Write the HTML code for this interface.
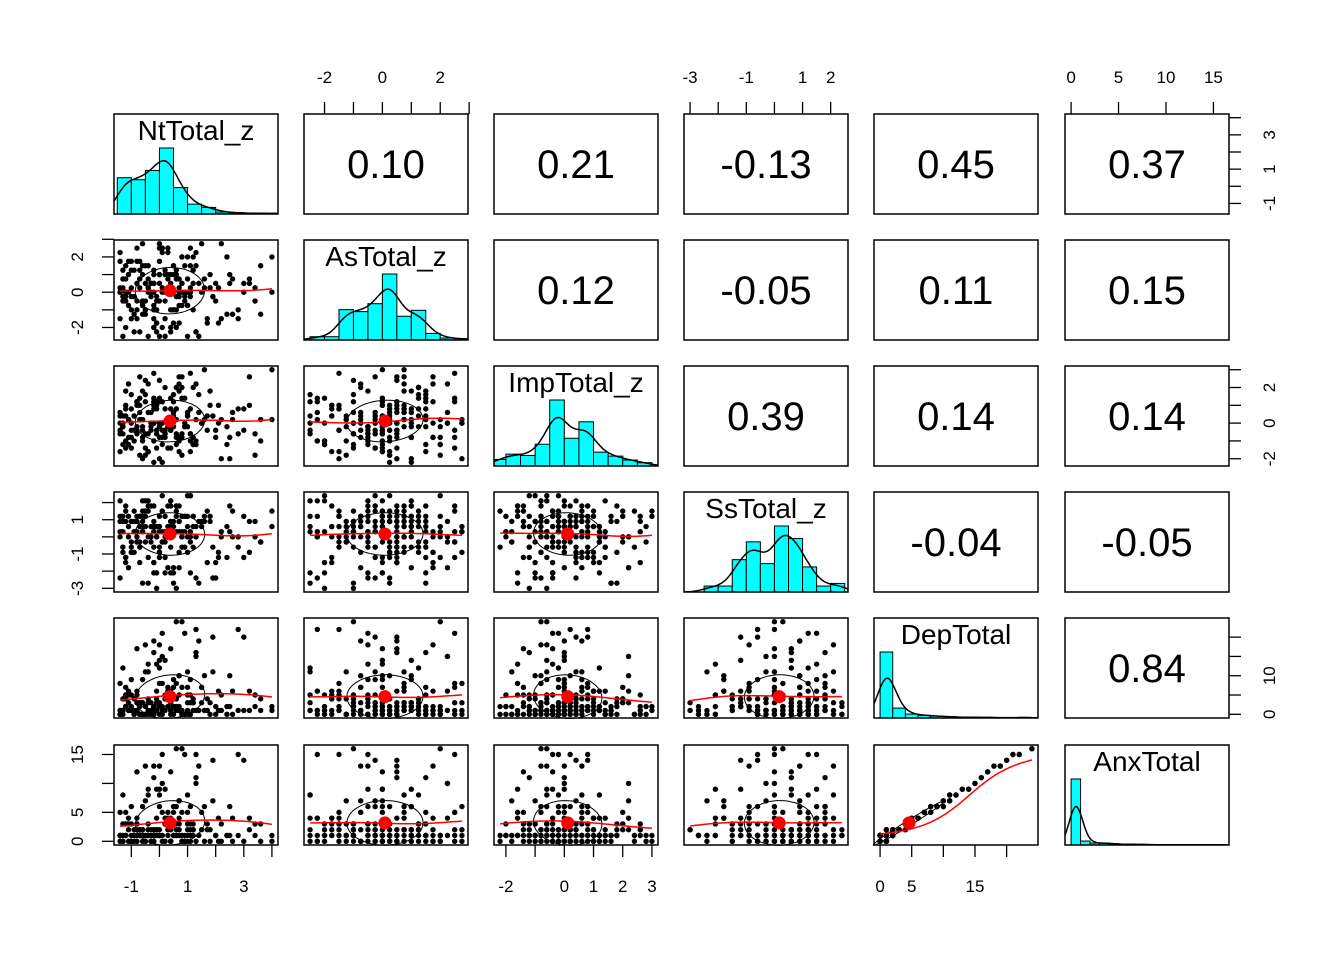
<!DOCTYPE html>
<html><head><meta charset="utf-8"><style>
html,body{margin:0;padding:0;background:#fff;}
svg{display:block;font-family:"Liberation Sans",Arial,sans-serif;}
</style></head><body>
<svg id="chart" width="1344" height="960" viewBox="0 0 1344 960"></svg>
<script>
const varNames = ["NtTotal_z","AsTotal_z","ImpTotal_z","SsTotal_z","DepTotal","AnxTotal"];
const nt = [-1.4,-1.2,-1.0,-0.8,-0.6,-0.4,-0.2,0,0.2,0.4, 0.6,0.8,1.0,1.2,1.4,-1.3,-1.1,-0.9,-0.7,-0.5, -0.3,-0.1,0.1,0.3,0.5,0.7,0.9,1.1,1.3,1.6, 1.8,2.0,2.2,-1.4,-1.0,-0.6,-0.2,0.2,0.6,1.0, 2.4,2.6,-1.2,-0.8,-0.4,0,0.4,0.8,-0.2,0, -1.3,-0.9,-0.5,-0.1,0.3,0.7,1.1,1.5,2.8,3.0, -1.1,-0.7,-0.3,0.1,0.5,0.9,1.3,1.7,3.2,3.4, -1.4,-0.8,-0.2,0.4,1.0,-0.6,0,0.6,3.6,4.0, -1.2,-1.0,-0.6,-0.4,-0.2,0.2,0.4,0.8,1.2,1.9, -1.3,-0.7,-0.1,0.5,1.1,-0.5,0.1,0.7,2.1,2.5,
 0.4,0.2,0,-0.2,-0.4,-0.6,-0.8,-1.0,-1.2,-1.4, -0.5,-0.7,-0.9,-1.1,-1.3,1.4,1.2,1.0,0.8,0.6, 1.6,1.3,1.1,0.9,0.7,0.5,0.3,0.1,-0.1,-0.3, 1.0,0.6,0.2,-0.2,-0.6,-1.0,-1.4,2.2,2.0,1.8, 0,-0.2,0.8,0.4,0,-0.4,-0.8,-1.2,2.6,2.4, 3.0,2.8,1.5,1.1,0.7,0.3,-0.1,-0.5,-0.9,-1.3, 3.4,3.2,1.7,1.3,0.9,0.5,0.1,-0.3,-0.7,-1.1, 4.0,3.6,0.6,0,-0.6,1.0,0.4,-0.2,-0.8,-1.4, 1.9,1.2,0.8,0.4,0.2,-0.2,-0.4,-0.6,-1.0,-1.2, 2.5,2.1,0.7,0.1,-0.5,1.1,0.5,-0.1,-0.7,-1.3];
const as = [0,1.5,-1,2.5,-0.5,0.75,-2,1,-1.5,0.25, -0.25,2,-0.75,0.5,-2.5,1.25,0,-1.25,1.75,-0.5, 0.5,-1.75,0.25,2.25,-1,0,1.5,-0.25,-2.25,0.75, 1,-0.5,2.75,-1.5,0.25,-0.75,0.5,1.25,-2,0, -1.25,0.75,-0.25,1.75,-2.5,0.5,-1,2,0,1, 0.25,-2.25,1.5,-0.5,0.75,-1.75,2.5,0,-1,0.5, -0.75,1.25,0,-2,1,-0.25,2.25,-1.5,0.5,0.25, 1.75,-1,0.5,0,-2.5,1.5,-0.5,0.75,-1.25,2, 0,-1.5,2.75,0.25,-0.75,1,-2.25,0.5,1.25,-0.25, -0.5,0.75,-1.75,1.5,0,-1,2.5,-0.25,0.25,1,
 1,-0.5,2.75,-1.5,0.25,-0.75,0.5,1.25,-2,0, -1.25,0.75,-0.25,1.75,-2.5,0.5,-1,2,0,1, 0.25,-2.25,1.5,-0.5,0.75,-1.75,2.5,0,-1,0.5, -0.75,1.25,0,-2,1,-0.25,2.25,-1.5,0.5,0.25, 1.75,-1,0.5,0,-2.5,1.5,-0.5,0.75,-1.25,2, 0,-1.5,2.75,0.25,-0.75,1,-2.25,0.5,1.25,-0.25, -0.5,0.75,-1.75,1.5,0,-1,2.5,-0.25,0.25,1, 0,1.5,-1,2.5,-0.5,0.75,-2,1,-1.5,0.25, -0.25,2,-0.75,0.5,-2.5,1.25,0,-1.25,1.75,-0.5, 0.5,-1.75,0.25,2.25,-1,0,1.5,-0.25,-2.25,0.75];
const imp = [-0.6,0.4,-1.4,1.2,-0.2,2.2,-1.0,0,0.8,-0.4, 0.2,-1.8,0.6,-0.8,1.6,-0.2,-1.2,0.4,2.6,-0.6, -0.4,1.0,-2.2,0,0.6,-1.0,1.4,-0.6,0.2,3.0, 1.8,-0.8,0.2,-1.6,0.8,-0.4,0,2.0,-1.2,0.4, -0.2,0.6,-1.4,1.2,-0.6,2.4,0,-0.8,1.0,-2.0, 0.4,-1.0,1.6,-0.4,0.2,-1.6,2.8,0,-0.6,0.8, -0.8,1.4,-0.2,-1.2,0.6,0,2.2,-0.4,1.0,-1.8, 0,-0.6,1.2,-1.4,0.4,1.8,-0.2,0.8,-1.0,0.2, 1.0,-0.4,-2.0,0.6,0,-0.8,1.4,-0.6,2.0,0.4, -1.2,0.2,0.8,-0.2,-1.6,1.2,-0.4,2.6,0,-0.8,
 0.8,-0.6,0,2.8,-1.6,0.2,-0.4,1.6,-1.0,0.4, -1.8,1.0,-0.4,2.2,0,0.6,-1.2,-0.2,1.4,-0.8, 0.2,-1.0,0.8,-0.2,1.8,0.4,-1.4,1.2,-0.6,0, 0.4,2.0,-0.6,1.4,-0.8,0,0.6,-2.0,-0.4,1.0, -0.8,0,2.6,-0.4,1.2,-1.6,-0.2,0.8,0.2,-1.2, -0.4,0.8,0,-1.0,2.2,-0.2,1.2,-1.4,0.4,-0.6, -0.6,2.6,0.4,-1.2,-0.2,1.6,-0.8,0.6,-1.8,0.2, 3.0,0.2,-0.6,1.4,-1.0,0.6,0,-2.2,1.0,-0.4, 0.4,-1.2,2.0,0,-0.4,0.8,-1.6,0.2,-0.8,1.8, -2.0,1.0,-0.8,0,2.4,-0.6,1.2,-1.4,0.6,-0.2];
const ss = [0.3,-1.2,0.9,-0.3,1.5,0,-2.1,0.6,1.2,-0.6, 1.8,0.3,-0.9,0.6,-2.7,1.2,0,0.9,-1.5,2.1, -0.3,0.6,1.5,-1.8,0.3,0.9,-0.6,2.4,0,1.2, 0.9,-2.4,0.3,1.2,-0.9,0.6,1.8,-0.3,-3.0,0, 0.6,1.5,-1.2,0.3,2.1,-0.6,0.9,0,-1.5,1.2, -0.9,0.3,1.2,-2.1,0.6,1.8,-0.3,0.9,0,-1.2, 1.2,-0.6,0.6,2.4,-1.8,0.3,0,1.5,-0.9,0.9, 0,0.9,-1.5,0.6,1.2,-2.7,0.3,1.8,-0.3,0.6, 1.5,-0.3,0.3,-1.2,0.9,0,2.1,-0.6,1.2,-2.4, -0.6,1.2,0,0.9,-2.1,0.6,1.5,0.3,-0.9,1.8,
 1.8,0.3,-0.9,0.6,-2.7,1.2,0,0.9,-1.5,2.1, -0.3,0.6,1.5,-1.8,0.3,0.9,-0.6,2.4,0,1.2, 0.9,-2.4,0.3,1.2,-0.9,0.6,1.8,-0.3,-3.0,0, 0.6,1.5,-1.2,0.3,2.1,-0.6,0.9,0,-1.5,1.2, -0.9,0.3,1.2,-2.1,0.6,1.8,-0.3,0.9,0,-1.2, 1.2,-0.6,0.6,2.4,-1.8,0.3,0,1.5,-0.9,0.9, 0,0.9,-1.5,0.6,1.2,-2.7,0.3,1.8,-0.3,0.6, 1.5,-0.3,0.3,-1.2,0.9,0,2.1,-0.6,1.2,-2.4, -0.6,1.2,0,0.9,-2.1,0.6,1.5,0.3,-0.9,1.8, 0.3,-1.2,0.9,-0.3,1.5,0,-2.1,0.6,1.2,-0.6];
const dep = [0,2,5,1,9,3,0,14,4,1, 2,0,7,3,1,12,5,0,2,18, 1,4,0,6,2,10,0,3,22,1, 3,0,1,8,2,0,16,4,1,5, 0,6,2,1,11,0,3,24,1,2, 4,1,0,13,2,5,0,7,1,20, 1,0,3,2,9,0,15,1,6,2, 0,5,1,17,3,0,2,8,4,1, 2,1,0,4,19,1,6,0,3,11, 0,3,1,7,0,2,21,5,1,10,
 1,4,8,2,0,3,17,1,5,0, 11,3,0,6,1,19,4,0,1,2, 10,1,5,21,2,0,7,1,3,0, 1,4,14,0,3,9,1,5,2,0, 18,2,0,5,12,1,3,7,0,2, 1,22,3,0,10,2,6,0,4,1, 5,1,4,16,0,2,8,1,0,3, 2,1,24,3,0,11,1,2,6,0, 20,1,7,0,5,2,13,0,1,4, 2,6,1,15,0,9,2,3,0,1];
const anx = [0,1,3,1,6,2,1,9,3,0, 1,0,5,2,1,8,3,1,2,13, 1,2,0,4,1,7,1,2,15,0, 2,1,0,5,1,0,11,3,2,3, 1,4,1,0,8,1,2,16,0,1, 3,0,1,9,2,4,0,5,1,14, 0,1,2,1,6,0,10,2,4,1, 1,3,0,12,2,1,1,6,3,0, 1,0,1,3,13,0,4,1,2,7, 0,2,1,5,1,1,15,3,0,6,
 0,3,6,1,1,2,12,0,3,1, 7,2,1,4,0,13,3,1,0,1, 6,0,3,15,1,1,5,1,2,0, 0,3,9,1,2,6,1,3,1,0, 13,2,1,3,8,1,2,5,0,1, 0,15,2,1,7,1,4,0,2,1, 3,2,3,11,0,1,5,0,1,2, 1,0,16,2,1,8,0,1,4,1, 14,1,5,0,4,2,9,1,0,3, 1,4,2,10,0,6,1,2,1,0];
const corrLabels = ["0.10","0.21","-0.13","0.45","0.37","0.12","-0.05","0.11","0.15","0.39","0.14","0.14","-0.04","-0.05","0.84"];
// histograms: start, step, relative counts
const histStart = [-1.5,-2.5,-2.5,-2.5,0,0];
const histStep = [0.5,0.5,0.5,0.5,2,1];
const histNt = [55,52,66,100,40,15,10,3,2,1,1,1];
const histAs = [5,5,46,43,55,100,36,45,10,3,2];
const histImp = [10,18,16,33,100,42,67,21,15,9,5];
const histSs = [9,9,49,76,43,100,81,38,9,13];
const histDep = [100,15,6,4,3,2,1,1,1,0.5,0.5,1];
const histAnx = [100,6,3,3,2,1,1,1,0.5,0.5,0.5,0.5,0.3,0.3,0.3,0.5];
const tickVals = [[-1,0,1,2,3,4],[-2,-1,0,1,2,3],[-2,-1,0,1,2,3],[-3,-2,-1,0,1,2],[0,5,10,15,20],[0,5,10,15]];
const tickShown = [["-1","1","3"],["-2","0","2"],["-2","0","1","2","3"],["-3","-1","1","2"],["0","5","15"],["0","5","10","15"]];
const tickShownY = [["-1","1","3"],["-2","0","2"],["-2","0","2"],["-3","-1","1"],["0","10"],["0","5","15"]];

const data = [nt,as,imp,ss,dep,anx];
const hists = [histNt,histAs,histImp,histSs,histDep,histAnx];
const colX = [114,304,494,684,874,1065], rowY = [114,240,366,492,618,745], PW = 164, PH = 100;
const NS = "http://www.w3.org/2000/svg";
const svg = document.getElementById('chart');
function mk(tag, attrs, parent){const e=document.createElementNS(NS,tag);for(const k in attrs)e.setAttribute(k,attrs[k]);(parent||svg).appendChild(e);return e;}
function domain(v){let mn=Math.min(...v),mx=Math.max(...v);const r=mx-mn;return [mn-0.04*r,mx+0.04*r];}
const doms = data.map(domain);
function xs(i,v){const d=doms[i];return colX[i]+(v-d[0])/(d[1]-d[0])*PW;}
function ys(i,v){const d=doms[i];return rowY[i]+PH-(v-d[0])/(d[1]-d[0])*PH;}
function mean(a){return a.reduce((s,x)=>s+x,0)/a.length;}
function sd(a){const m=mean(a);return Math.sqrt(a.reduce((s,x)=>s+(x-m)*(x-m),0)/(a.length-1));}
function cor(a,b){const ma=mean(a),mb=mean(b);let s=0,sa=0,sb=0;for(let k=0;k<a.length;k++){s+=(a[k]-ma)*(b[k]-mb);sa+=(a[k]-ma)**2;sb+=(b[k]-mb)**2;}return s/Math.sqrt(sa*sb);}

let ci = 0;
for (let r=0;r<6;r++){
  for (let c=0;c<6;c++){
    const g = mk('g',{});
    const px=colX[c], py=rowY[r];
    if (r===c){
      
      
      const clipId='clip'+r;
      const cp=mk('clipPath',{id:clipId},g);
      mk('rect',{x:px,y:py,width:PW,height:PH},cp);
      const inner=mk('g',{'clip-path':'url(#'+clipId+')'},g);
      const h=hists[r], mx=Math.max(...h), hs=v=>py+PH-v/mx*0.66*PH;
      for (let k=0;k<h.length;k++){
        const a=histStart[r]+k*histStep[r], b=a+histStep[r];
        const x1=xs(r,a), x2=xs(r,b);
        const bar=mk('rect',{x:x1,y:hs(h[k]),width:x2-x1,height:py+PH-hs(h[k]),fill:'#00ffff',stroke:'#000','stroke-width':1},inner);
        
        
      }
      const bw=histStep[r]*0.7; let pts=[];
      const d=doms[r];
      for (let t=0;t<=120;t++){
        const xv=d[0]+(d[1]-d[0])*t/120; let yv=0;
        for (let k=0;k<h.length;k++){const m=histStart[r]+(k+0.5)*histStep[r];yv+=h[k]*histStep[r]*Math.exp(-0.5*((xv-m)/bw)**2)/(bw*Math.sqrt(2*Math.PI));}
        pts.push(xs(r,xv).toFixed(1)+','+hs(yv).toFixed(1));
      }
      const dl=mk('polyline',{points:pts.join(' '),fill:'none',stroke:'#000','stroke-width':1.5},inner);
      
      
      const t=mk('text',{x:px+PW/2,y:py+26,'text-anchor':'middle','font-size':28,fill:'#000'},g);
      t.textContent=varNames[r];
      
      
    } else if (c>r){
      
      
      const t=mk('text',{x:px+PW/2,y:py+PH/2+14,'text-anchor':'middle','font-size':40,fill:'#000'},g);
      t.textContent=corrLabels[ci++];
      
      
    } else {
      
      
      const X=data[c], Y=data[r];
      for (let k=0;k<X.length;k++){
        const p=mk('circle',{cx:xs(c,X[k]),cy:ys(r,Y[k]),r:2.7,fill:'#000'},g);
        
        
      }
      const mxv=mean(X), myv=mean(Y), sx=sd(X), sy=sd(Y), rr=cor(X,Y), dd=Math.acos(Math.max(-1,Math.min(1,rr)));
      let ep=[];
      for (let t=0;t<=60;t++){const a=t/60*2*Math.PI;ep.push(xs(c,mxv+sx*Math.cos(a+dd/2)).toFixed(1)+','+ys(r,myv+sy*Math.cos(a-dd/2)).toFixed(1));}
      const el=mk('polyline',{points:ep.join(' '),fill:'none',stroke:'#000','stroke-width':1},g);
      
      
      const rng=Math.max(...X)-Math.min(...X), bw=rng*0.18; let lp=[];
      for (let t=0;t<=30;t++){
        const xv=Math.min(...X)+rng*t/30; let sw=0,swy=0;
        for (let k=0;k<X.length;k++){const w=Math.exp(-0.5*((X[k]-xv)/bw)**2);sw+=w;swy+=w*Y[k];}
        lp.push(xs(c,xv).toFixed(1)+','+ys(r,swy/sw).toFixed(1));
      }
      const sl=mk('polyline',{points:lp.join(' '),fill:'none',stroke:'#ff0000','stroke-width':1.5},g);
      
      
      const md=mk('circle',{cx:xs(c,mxv),cy:ys(r,myv),r:6.5,fill:'#ff0000'},g);
      
      
    }
    const box=mk('rect',{x:px,y:py,width:PW,height:PH,fill:'none',stroke:'#000','stroke-width':1.5},g);
    
    
  }
}
for (let i=0;i<6;i++){
  const ax=mk('g',{});
  
  
  const tv=tickVals[i];
  const top=(i%2===1), yb=top?rowY[0]:rowY[5]+PH, dir=top?-1:1;
  mk('line',{x1:xs(i,tv[0]),x2:xs(i,tv[tv.length-1]),y1:yb,y2:yb,stroke:'#000','stroke-width':1},ax);
  for (const v of tv){
    const x=xs(i,v);
    mk('line',{x1:x,x2:x,y1:yb,y2:yb+dir*12,stroke:'#000','stroke-width':1.3},ax);
    if (tickShown[i].includes(String(v))){
      const t=mk('text',{x:x,y:top?yb-31:yb+47,'text-anchor':'middle','font-size':17,fill:'#000'},ax);
      t.textContent=String(v);
      
      
    }
  }
  const left=(i%2===1), xb=left?colX[0]:colX[5]+PW, dx=left?-1:1;
  mk('line',{x1:xb,x2:xb,y1:ys(i,tv[0]),y2:ys(i,tv[tv.length-1]),stroke:'#000','stroke-width':1},ax);
  for (const v of tv){
    const y=ys(i,v);
    mk('line',{x1:xb,x2:xb+dx*12,y1:y,y2:y,stroke:'#000','stroke-width':1.3},ax);
    if (tickShownY[i].includes(String(v))){
      const lx=left?xb-31:xb+46;
      const t=mk('text',{x:lx,y:y,'text-anchor':'middle','font-size':17,fill:'#000',transform:'rotate(-90 '+lx+' '+y+')'},ax);
      t.textContent=String(v);
      
      
    }
  }
}
</script>
</body></html>
